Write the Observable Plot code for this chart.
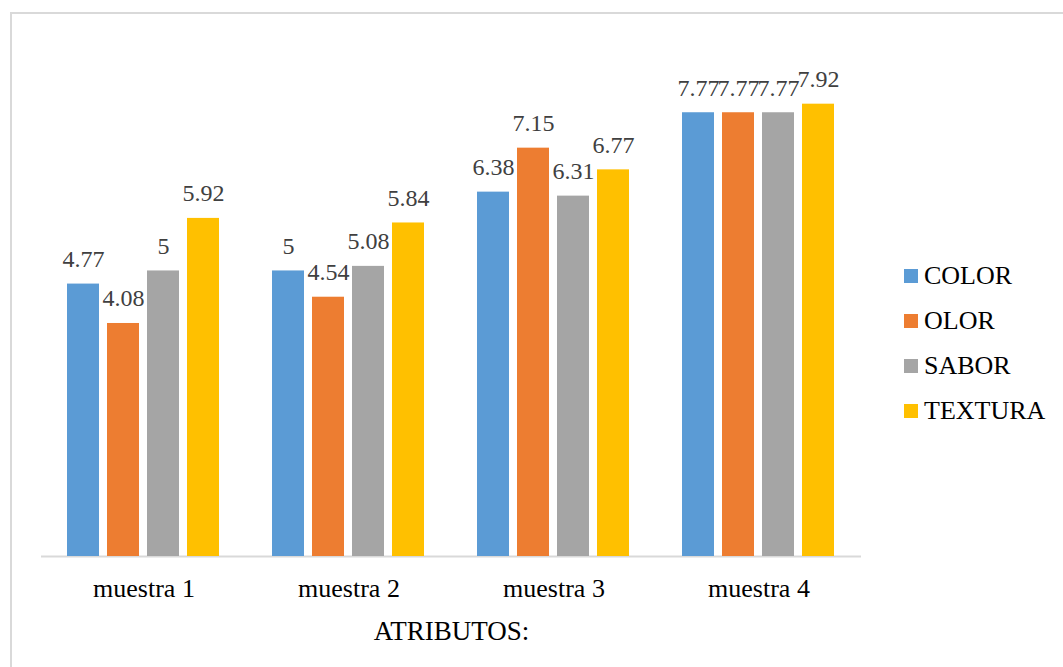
<!DOCTYPE html>
<html>
<head>
<meta charset="utf-8">
<script src="https://cdn.jsdelivr.net/npm/d3@7"></script>
<script src="https://cdn.jsdelivr.net/npm/@observablehq/plot@0.6"></script>
<style>
  body { margin: 0; background: #fff; }
  #chart { position: relative; width: 1063px; height: 667px; overflow: hidden; background: #fff; }
  #frame { position: absolute; left: 10px; top: 12px; width: 1100px; height: 700px; border: 2px solid #d9d9d9; box-sizing: border-box; pointer-events: none; }
  #plot { position: absolute; left: 0; top: 0; }
  #plot g[aria-label="fx-axis label"] { font-size: 27px; }
  .legend-item { position: absolute; left: 904px; height: 30px; display: flex; align-items: center;
    font-family: "Liberation Serif", "Times New Roman", serif; font-size: 26px; color: #000; }
  .legend-swatch { width: 14px; height: 14px; margin-right: 6px; flex: none; }
</style>
</head>
<body>
<div id="chart">
  <div id="frame"></div>
  <div id="plot"></div>
</div>
<script>
// Samples (groups) and sensory attributes (series)
const samples = ["muestra 1", "muestra 2", "muestra 3", "muestra 4"];
const attributes = ["COLOR", "OLOR", "SABOR", "TEXTURA"];

// Mean scores per attribute, one value per sample
const colorScores = [4.77, 5, 6.38, 7.77];
const olorScores = [4.08, 4.54, 7.15, 7.77];
const saborScores = [5, 5.08, 6.31, 7.77];
const texturaScores = [5.92, 5.84, 6.77, 7.92];

const seriesColors = ["#5B9BD5", "#ED7D31", "#A5A5A5", "#FFC000"];

const seriesScores = [colorScores, olorScores, saborScores, texturaScores];
const rows = [];
samples.forEach((s, i) => {
  attributes.forEach((a, j) => {
    rows.push({ sample: s, attr: a, value: seriesScores[j][i] });
  });
});

const serif = '"Liberation Serif", "Times New Roman", serif';

const chart = Plot.plot({
  width: 1063,
  height: 667,
  marginLeft: 40,
  marginRight: 201,
  marginTop: 42,
  marginBottom: 111,
  style: { fontFamily: serif, background: "transparent", color: "#000", overflow: "visible" },
  fx: { domain: samples, paddingInner: 0, paddingOuter: 0, label: null },
  x: { domain: attributes, paddingInner: 0.195, paddingOuter: 0.604, axis: null },
  y: { domain: [0, 9], axis: null },
  color: { domain: attributes, range: seriesColors },
  marks: [
    Plot.ruleY([0], { stroke: "#d9d9d9", strokeWidth: 2 }),
    Plot.barY(rows, { fx: "sample", x: "attr", y: "value", fill: "attr" }),
    Plot.text(rows, {
      fx: "sample", x: "attr", y: "value",
      text: d => String(d.value),
      lineAnchor: "bottom", dy: -17,
      fontSize: 24, fill: "#404040"
    }),
    Plot.axisFx({
      anchor: "bottom", tickSize: 0, tickPadding: 22, fontSize: 26,
      label: "ATRIBUTOS:", labelAnchor: "center", labelOffset: 83, labelArrow: "none"
    })
  ]
});
document.getElementById("plot").appendChild(chart);

// Legend to the right of the plot
const chartDiv = document.getElementById("chart");
const legendCenters = [276, 321, 366, 411];
attributes.forEach((a, i) => {
  const item = document.createElement("div");
  item.className = "legend-item";
  item.style.top = (legendCenters[i] - 15) + "px";
  const sw = document.createElement("span");
  sw.className = "legend-swatch";
  sw.style.background = seriesColors[i];
  const label = document.createElement("span");
  label.textContent = a;
  item.appendChild(sw);
  item.appendChild(label);
  chartDiv.appendChild(item);
});
</script>
</body>
</html>
